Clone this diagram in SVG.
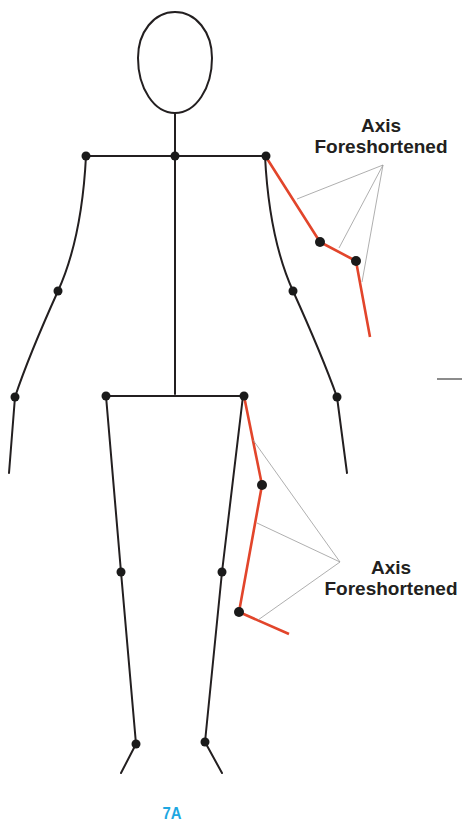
<svg xmlns="http://www.w3.org/2000/svg" width="462" height="822" viewBox="0 0 462 822">
  <style>
    .bone { fill: none; stroke: #231f20; stroke-width: 2; stroke-linecap: round; stroke-linejoin: round; }
    .axis { fill: none; stroke: #e2452b; stroke-width: 2.6; stroke-linecap: butt; stroke-linejoin: round; }
    .lead { fill: none; stroke: #9a9a9a; stroke-width: 0.8; }
    .joint { fill: #1a1a1a; }
    .label { font-family: "Liberation Sans", Arial, sans-serif; font-weight: bold; font-size: 19px; fill: #231f20; text-anchor: middle; }
    .fig { font-family: "Liberation Sans", Arial, sans-serif; font-weight: bold; font-size: 16px; fill: #1ea7e1; text-anchor: middle; }
  </style>
  <rect width="462" height="822" fill="#ffffff"/>

  <g id="head">
    <path class="bone" d="M175,12 C196,12 212,32 212,58 C212,88 196,113 175,113 C154,113 138,88 138,58 C138,32 154,12 175,12 Z"/>
  </g>

  <g id="torso">
    <line class="bone" x1="175" y1="113" x2="175" y2="394"/>
    <line class="bone" x1="86" y1="156" x2="265" y2="156"/>
    <line class="bone" x1="106" y1="396" x2="243" y2="396"/>
  </g>

  <g id="left-arm">
    <path class="bone" d="M86,156 C83,215 73,258 58,291 C44,322 28,358 15,397 L9,473"/>
  </g>

  <g id="right-arm">
    <path class="bone" d="M265,156 C268,215 278,258 293,291 C307,322 323,358 337,397 L347,473"/>
  </g>

  <g id="left-leg">
    <path class="bone" d="M106,396 L121,572 L136,744 L121,773"/>
  </g>

  <g id="right-leg">
    <path class="bone" d="M243,396 L222,572 L205,742 L222,773"/>
  </g>

  <g id="foreshortened-arm">
    <path class="axis" d="M266,157 L320,242 L356,261 L370,337"/>
  </g>

  <g id="foreshortened-leg">
    <path class="axis" d="M244,396 L262,485 L239,612 L289,634"/>
  </g>

  <g id="connectors">
    <line class="lead" x1="383" y1="165" x2="297" y2="199"/>
    <line class="lead" x1="383" y1="165" x2="339" y2="248"/>
    <line class="lead" x1="383" y1="165" x2="362" y2="282"/>
    <line class="lead" x1="340" y1="562" x2="253" y2="440"/>
    <line class="lead" x1="340" y1="562" x2="257" y2="523"/>
    <line class="lead" x1="340" y1="562" x2="258" y2="620"/>
  </g>

  <g id="joints">
    <circle class="joint" cx="86" cy="156" r="4.5"/>
    <circle class="joint" cx="175" cy="156" r="4.5"/>
    <circle class="joint" cx="266" cy="156" r="4.5"/>
    <circle class="joint" cx="58" cy="291" r="4.5"/>
    <circle class="joint" cx="293" cy="291" r="4.5"/>
    <circle class="joint" cx="15" cy="397" r="4.5"/>
    <circle class="joint" cx="337" cy="397" r="4.5"/>
    <circle class="joint" cx="106" cy="396" r="4.5"/>
    <circle class="joint" cx="244" cy="396" r="4.5"/>
    <circle class="joint" cx="121" cy="572" r="4.5"/>
    <circle class="joint" cx="222" cy="572" r="4.5"/>
    <circle class="joint" cx="136" cy="744" r="4.5"/>
    <circle class="joint" cx="205" cy="742" r="4.5"/>
    <circle class="joint" cx="320" cy="242" r="5"/>
    <circle class="joint" cx="356" cy="261" r="5"/>
    <circle class="joint" cx="262" cy="485" r="5"/>
    <circle class="joint" cx="239" cy="612" r="5"/>
  </g>

  <g id="label-arm">
    <text class="label" x="381" y="132">Axis</text>
    <text class="label" x="381" y="153">Foreshortened</text>
  </g>

  <g id="label-leg">
    <text class="label" x="391" y="574">Axis</text>
    <text class="label" x="391" y="595">Foreshortened</text>
  </g>

  <line x1="437" y1="379" x2="462" y2="379" stroke="#8c8c8c" stroke-width="2"/>

  <text class="fig" x="172" y="819" textLength="19" lengthAdjust="spacingAndGlyphs">7A</text>
</svg>
